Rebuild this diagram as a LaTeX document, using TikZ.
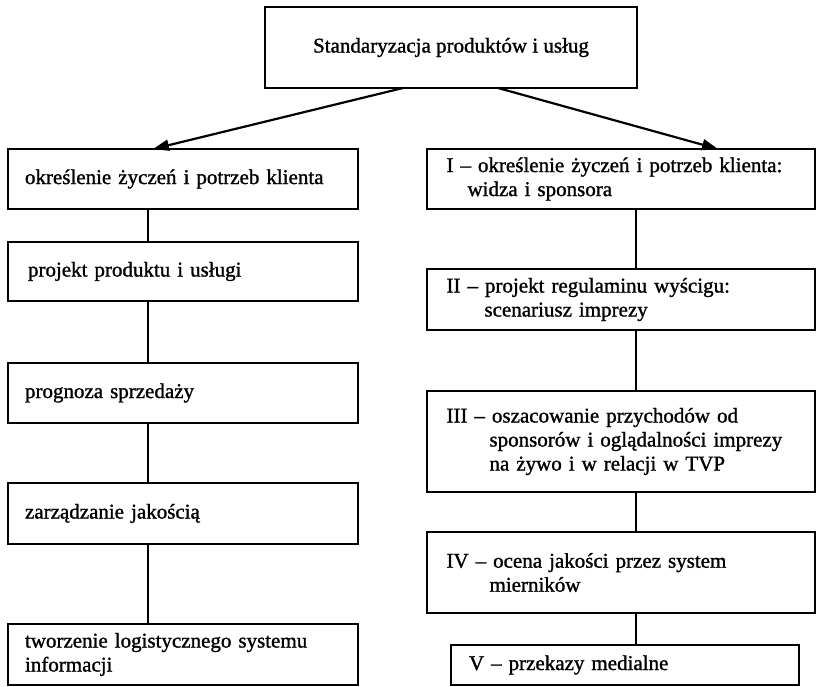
\documentclass[tikz,border=0pt]{standalone}
\usepackage{fontspec}
\setmainfont{Liberation Serif}[FakeBold=1.2]
\usetikzlibrary{arrows.meta}
\begin{document}
\begin{tikzpicture}[x=1pt,y=-1pt,
  box/.style={draw, line width=2.4pt, rectangle, anchor=north west, outer sep=0pt,
    align=left, inner ysep=0pt, font=\fontsize{21}{24}\selectfont},
  lbox/.style={box, inner xsep=17pt, text width=316pt},
  rbox/.style={box, inner xsep=19.5pt, text width=349pt},
  link/.style={line width=2.2pt},
  arr/.style={line width=2.2pt, -{Triangle[length=16pt,width=11pt]}}]
\useasboundingbox (0,0) rectangle (816,686);
% top
\node[box, align=center, inner xsep=0pt, minimum width=372pt, minimum height=81pt] (top) at (265,7) {Standaryzacja produktów i usług};
% left column
\node[lbox, minimum height=60pt] (l1) at (8,149) {określenie życzeń i potrzeb klienta};
\node[lbox, minimum height=59pt] (l2) at (8,242) {\hspace*{3pt}projekt produktu i usługi};
\node[lbox, minimum height=60pt] (l3) at (8,363) {prognoza sprzedaży};
\node[lbox, minimum height=61pt] (l4) at (8,483) {zarządzanie jakością};
\node[lbox, minimum height=61pt] (l5) at (8,624) {tworzenie logistycznego systemu\\informacji};
% right column
\node[rbox, minimum height=60pt] (r1) at (427,149) {I – określenie życzeń i potrzeb klienta:\\\hspace*{21pt}widza i sponsora};
\node[rbox, minimum height=61pt] (r2) at (427,269) {II – projekt regulaminu wyścigu:\\\hspace*{38pt}scenariusz imprezy};
\node[rbox, minimum height=101pt] (r3) at (427,391) {III – oszacowanie przychodów od\\\hspace*{43pt}sponsorów i oglądalności imprezy\\\hspace*{43pt}na żywo i w relacji w TVP};
\node[rbox, minimum height=81pt] (r4) at (427,532) {IV – ocena jakości przez system\\\hspace*{43pt}mierników};
\node[box, inner xsep=18pt, text width=312pt, minimum height=40pt] (r5) at (451,645) {V – przekazy medialne};
% connector positions
\coordinate (lx) at (148,0);
\coordinate (rx) at (636,0);
\coordinate (s1) at (403,0);
\coordinate (s2) at (498,0);
\coordinate (t1) at (153,0);
\coordinate (t2) at (718,0);
% arrows
\draw[arr] (top.south -| s1) -- (l1.north -| t1);
\draw[arr] (top.south -| s2) -- (r1.north -| t2);
% left links
\draw[link] (l1.south -| lx) -- (l2.north -| lx);
\draw[link] (l2.south -| lx) -- (l3.north -| lx);
\draw[link] (l3.south -| lx) -- (l4.north -| lx);
\draw[link] (l4.south -| lx) -- (l5.north -| lx);
% right links
\draw[link] (r1.south -| rx) -- (r2.north -| rx);
\draw[link] (r2.south -| rx) -- (r3.north -| rx);
\draw[link] (r3.south -| rx) -- (r4.north -| rx);
\draw[link] (r4.south -| rx) -- (r5.north -| rx);
\end{tikzpicture}
\end{document}
